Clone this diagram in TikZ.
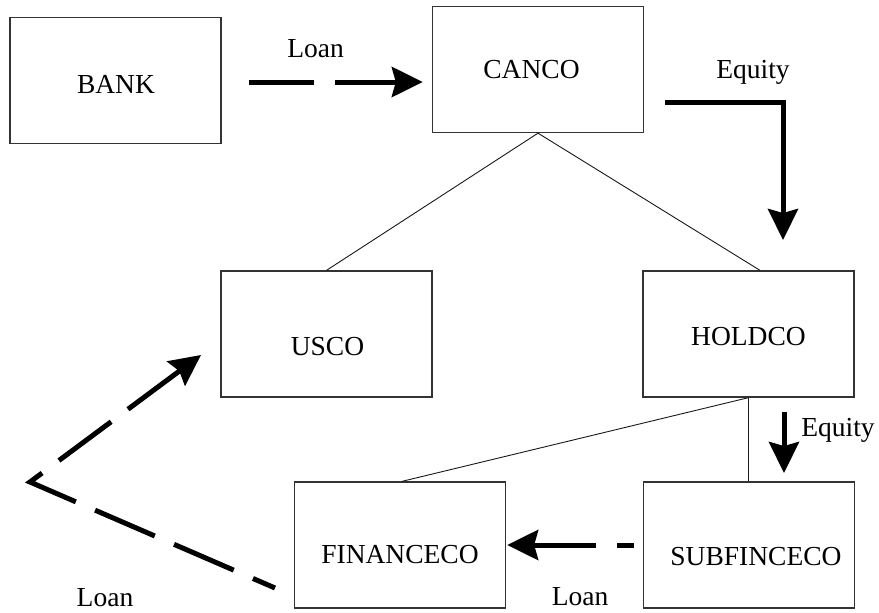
\documentclass[tikz,border=0pt]{standalone}
\usepackage{fontspec}
\setmainfont{Liberation Serif}
\usetikzlibrary{arrows.meta}

\begin{document}
\begin{tikzpicture}[x=1pt,y=-1pt,
  box/.style={draw=black!80, line width=1.3pt, minimum width=211pt,
              minimum height=126pt, inner sep=0pt},
  txt/.style={anchor=base, inner sep=0pt, font=\fontsize{27.5}{33}\selectfont},
  tie/.style={draw=black!90, line width=0.9pt},
  flow/.style={line width=5pt, -{Stealth[length=31pt,width=30pt,inset=4pt]}},
  dashflow/.style={flow, dash pattern=on 65pt off 21pt}]

\useasboundingbox (0,0) rectangle (879,613);

% company boxes
\node[box] (bank)       at (115.5,80.5) {};
\node[box] (canco)      at (538,69.5)   {};
\node[box] (usco)       at (326.5,334)  {};
\node[box] (holdco)     at (748.5,334)  {};
\node[box] (financeco)  at (400,545)    {};
\node[box] (subfinceco) at (749,545)    {};

% box captions
\node[txt] (bankT)       at (116,93)    {BANK};
\node[txt] (cancoT)      at (531.5,78)  {CANCO};
\node[txt] (uscoT)       at (327.5,355) {USCO};
\node[txt] (holdcoT)     at (748.5,345) {HOLDCO};
\node[txt] (financecoT)  at (400,563)   {FINANCECO};
\node[txt] (subfincecoT) at (756,565)   {SUBFINCECO};

% ownership ties
\draw[tie] (canco.south) -- (usco.north);
\draw[tie] (canco.south) -- ([xshift=11.5pt]holdco.north);
\draw[tie] (holdco.south) -- ([xshift=2pt]financeco.north);
\draw[tie] (holdco.south) -- (holdco.south |- subfinceco.north);

% free ends of the flows
\coordinate (eqStart)  at (665,102);
\coordinate (eqEnd)    at (783,240);
\coordinate (eq2Start) at (784,412);
\coordinate (eq2End)   at (784,473);
\coordinate (lnStart)  at (275,588);
\coordinate (lnBend)   at (30,482);
\coordinate (lnEnd)    at (201,355);

% loan from the bank
\draw[dashflow] ([xshift=27pt]bank.east |- 0,82) -- ([xshift=-9pt]canco.west |- 0,82);
% equity into holdco
\draw[flow] (eqStart) -| (eqEnd);
% equity into subfinceco
\draw[flow] (eq2Start) -- (eq2End);
% loan from subfinceco to financeco
\draw[dashflow, dash phase=48pt] ([xshift=-9pt]subfinceco.west) -- ([xshift=1pt]financeco.east);
% loan from financeco round to usco
\draw[dashflow, dash phase=41pt, line join=miter] (lnStart) -- (lnBend) -- (lnEnd);

% flow labels
\node[txt] (loanTop)   at (315.5,57) {Loan};
\node[txt] (eqTop)     at (753,78)   {Equity};
\node[txt] (eqLow)     at (838,436)  {Equity};
\node[txt] (loanLow)   at (580,605)  {Loan};
\node[txt] (loanLeft)  at (105,606)  {Loan};

\end{tikzpicture}
\end{document}
